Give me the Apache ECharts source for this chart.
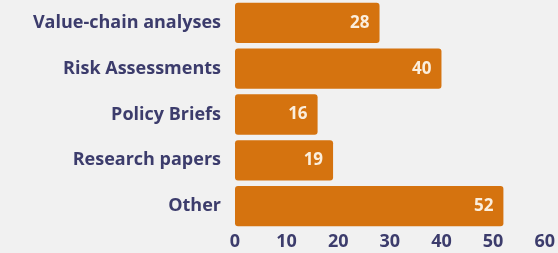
<!DOCTYPE html>
<html>
<head>
<meta charset="utf-8">
<script src="https://cdn.jsdelivr.net/npm/echarts@6/dist/echarts.min.js"></script>
<style>
  html, body { margin: 0; padding: 0; background: #f1f1f1; }
  #chart { width: 558px; height: 253px; }
</style>
</head>
<body>
<div id="chart"></div>
<script>
// 分类与数值（自上而下）
const categories = ['Value-chain analyses', 'Risk Assessments', 'Policy Briefs', 'Research papers', 'Other'];
const counts = [28, 40, 16, 19, 52];
const xTicks = [0, 10, 20, 30, 40, 50, 60];

const navy = '#3c3c6c';
const font = 'Open Sans';
const chart = echarts.init(document.getElementById('chart'));
chart.setOption({
  backgroundColor: '#f1f1f1',
  grid: { left: 235, right: 10, top: 0, height: 229 },
  xAxis: {
    type: 'value', min: xTicks[0], max: xTicks[xTicks.length - 1], interval: 10,
    splitLine: { show: false }, axisLine: { show: false }, axisTick: { show: false },
    axisLabel: { color: navy, fontSize: 18, fontWeight: 'bold', fontFamily: font, margin: 4 },
  },
  yAxis: {
    type: 'category', data: categories, inverse: true,
    axisLine: { show: false }, axisTick: { show: false },
    axisLabel: { color: navy, fontSize: 18, fontWeight: 'bold', fontFamily: font, margin: 14 },
  },
  series: [{
    type: 'bar', data: counts, barCategoryGap: '12%',
    itemStyle: { color: '#d5730f', borderRadius: 3 },
    label: {
      show: true, position: 'insideRight', distance: 10,
      color: '#fbeedd', fontSize: 17, fontWeight: 'bold', fontFamily: font,
    },
  }],
});
</script>
</body>
</html>
